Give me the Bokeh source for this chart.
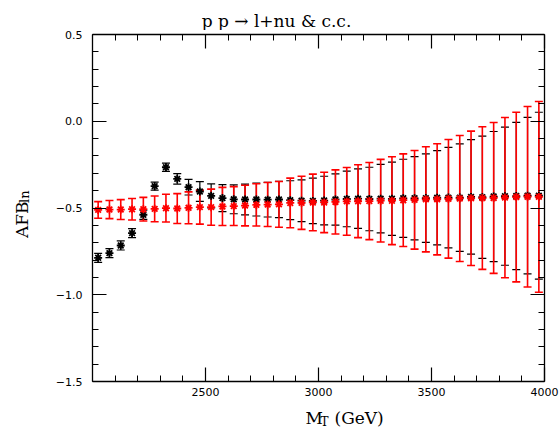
from bokeh.plotting import figure
from bokeh.layouts import column, row
from bokeh.models import (ColumnDataSource, Whisker, TeeHead, Range1d, LinearAxis,
                          FixedTicker, CustomLabelingPolicy)
from bokeh.core.properties import value
from bokeh.embed import file_html
from bokeh.resources import INLINE

# ---- data ----
mt = [2025, 2075, 2125, 2175, 2225, 2275, 2325, 2375, 2425, 2475,
      2525, 2575, 2625, 2675, 2725, 2775, 2825, 2875, 2925, 2975,
      3025, 3075, 3125, 3175, 3225, 3275, 3325, 3375, 3425, 3475,
      3525, 3575, 3625, 3675, 3725, 3775, 3825, 3875, 3925, 3975]

afb_black = [-0.787, -0.760, -0.716, -0.645, -0.539, -0.374, -0.265, -0.332, -0.380, -0.405,
             -0.430, -0.443, -0.450, -0.451, -0.451, -0.452, -0.451, -0.455, -0.458, -0.459,
             -0.457, -0.451, -0.448, -0.446, -0.448, -0.446, -0.447, -0.444, -0.444, -0.443,
             -0.441, -0.440, -0.440, -0.436, -0.438, -0.434, -0.432, -0.431, -0.429, -0.429]
err_black = [0.026, 0.026, 0.026, 0.026, 0.026, 0.023, 0.024, 0.030, 0.045, 0.057,
             0.069, 0.078, 0.083, 0.089, 0.095, 0.100, 0.104, 0.112, 0.120, 0.131,
             0.140, 0.148, 0.160, 0.172, 0.183, 0.197, 0.211, 0.225, 0.240, 0.255,
             0.272, 0.290, 0.310, 0.330, 0.352, 0.375, 0.398, 0.424, 0.451, 0.481]

afb_red = [-0.511, -0.509, -0.509, -0.507, -0.507, -0.505, -0.501, -0.503, -0.499, -0.495,
           -0.495, -0.491, -0.489, -0.486, -0.482, -0.480, -0.479, -0.471, -0.470, -0.468,
           -0.468, -0.465, -0.462, -0.461, -0.460, -0.458, -0.458, -0.455, -0.453, -0.450,
           -0.450, -0.447, -0.445, -0.444, -0.443, -0.442, -0.440, -0.437, -0.435, -0.436]
err_red = [0.048, 0.052, 0.057, 0.062, 0.068, 0.074, 0.080, 0.086, 0.092, 0.098,
           0.104, 0.110, 0.112, 0.117, 0.122, 0.127, 0.132, 0.143, 0.153, 0.163,
           0.174, 0.185, 0.195, 0.210, 0.222, 0.238, 0.253, 0.267, 0.284, 0.303,
           0.320, 0.342, 0.363, 0.387, 0.411, 0.435, 0.462, 0.489, 0.520, 0.550]

x_major = [2500, 3000, 3500, 4000]
x_minor = [2000, 2100, 2200, 2300, 2400, 2600, 2700, 2800, 2900, 3100, 3200, 3300, 3400,
           3600, 3700, 3800, 3900]
y_major = [-1.5, -1.0, -0.5, 0.0, 0.5]
y_labels = {-1.5: "\u22121.5", -1.0: "\u22121.0", -0.5: "\u22120.5", 0.0: "0.0", 0.5: "0.5"}
y_minor = [-1.4, -1.3, -1.2, -1.1, -0.9, -0.8, -0.7, -0.6, -0.4, -0.3, -0.2, -0.1,
           0.1, 0.2, 0.3, 0.4]

title_text = "p p \u2192 l+nu & c.c."
xlabel_main = "M"
xlabel_sub = "T"
xlabel_unit = "(GeV)"
ylabel_main = "AFB"
ylabel_sub = "ln"

SERIF = value("DejaVu Serif")

# ---- main figure ----
p = figure(width=520, height=375, output_backend="svg", toolbar_location=None,
           x_range=Range1d(2000, 4000), y_range=Range1d(-1.5, 0.5),
           min_border_left=52, min_border_right=16, min_border_top=4, min_border_bottom=24,
           x_axis_location=None, y_axis_location=None)
p.xgrid.visible = False
p.ygrid.visible = False
p.outline_line_color = None
p.background_fill_color = "white"
p.border_fill_color = "white"

xt = FixedTicker(ticks=x_major, minor_ticks=x_minor)
yt = FixedTicker(ticks=y_major, minor_ticks=y_minor)

def style(ax, labels=True, standoff=6):
    ax.major_tick_in = 14
    ax.major_tick_out = 0
    ax.minor_tick_in = 6
    ax.minor_tick_out = 0
    ax.axis_line_color = "black"
    ax.axis_line_width = 1.3
    ax.major_tick_line_width = 1.2
    ax.minor_tick_line_width = 1.0
    ax.major_tick_line_color = "black"
    ax.minor_tick_line_color = "black"
    if labels:
        ax.major_label_text_font = "DejaVu Sans"
        ax.major_label_text_font_size = "11px"
        ax.major_label_text_color = "black"
        ax.major_label_standoff = standoff
    else:
        ax.major_label_text_font_size = "1px"
        ax.major_label_standoff = 0
        ax.major_label_policy = CustomLabelingPolicy(code="return []")

xb = LinearAxis(ticker=xt)
style(xb, True, 6)
xa = LinearAxis(ticker=xt)
style(xa, False)
yl = LinearAxis(ticker=yt, major_label_overrides=y_labels)
style(yl, True, 10)
yr = LinearAxis(ticker=yt)
style(yr, False)
p.add_layout(xb, "below")
p.add_layout(xa, "above")
p.add_layout(yl, "left")
p.add_layout(yr, "right")

src_b = ColumnDataSource(dict(x=mt, y=afb_black,
                              lo=[v - e for v, e in zip(afb_black, err_black)],
                              hi=[v + e for v, e in zip(afb_black, err_black)]))
src_r = ColumnDataSource(dict(x=mt, y=afb_red,
                              lo=[v - e for v, e in zip(afb_red, err_red)],
                              hi=[v + e for v, e in zip(afb_red, err_red)]))

wb = Whisker(source=src_b, base="x", lower="lo", upper="hi",
             line_color="black", line_width=1.2,
             upper_head=TeeHead(size=8, line_color="black", line_width=1.2),
             lower_head=TeeHead(size=8, line_color="black", line_width=1.2))
p.add_layout(wb)
p.scatter("x", "y", source=src_b, marker="asterisk", size=8, line_color="black", line_width=1.8)

wr = Whisker(source=src_r, base="x", lower="lo", upper="hi",
             line_color="#ff0000", line_width=1.6,
             upper_head=TeeHead(size=8, line_color="#ff0000", line_width=1.6),
             lower_head=TeeHead(size=8, line_color="#ff0000", line_width=1.6))
p.add_layout(wr)
p.scatter("x", "y", source=src_r, marker="asterisk", size=8, line_color="#ff0000", line_width=1.8)

# ---- text strips (ranges in page pixels) ----
def strip(w, h, x0, y0):
    s = figure(width=w, height=h, output_backend="svg", toolbar_location=None,
               x_range=Range1d(x0, x0 + w), y_range=Range1d(y0 + h, y0),
               min_border=0, x_axis_location=None, y_axis_location=None)
    s.xgrid.visible = False
    s.ygrid.visible = False
    s.outline_line_color = None
    s.border_fill_color = "white"
    s.background_fill_color = "white"
    return s

top = strip(560, 30, 0, 0)
top.text(x=[276], y=[20], text=[title_text], text_font=SERIF, text_font_size="17px",
         text_align="center", text_baseline="alphabetic", text_color="black")

left = strip(40, 375, 0, 30)
left.text(x=[21], y=[250], text=[ylabel_main], angle=1.5707963, text_font=SERIF,
          text_font_size="17px", text_align="left", text_baseline="alphabetic",
          text_color="black")
left.text(x=[24], y=[212], text=[ylabel_sub], angle=1.5707963, text_font=SERIF,
          text_font_size="13px", text_align="left", text_baseline="alphabetic",
          text_color="black")

bottom = strip(560, 27, 0, 405)
bottom.text(x=[305], y=[417], text=[xlabel_main], text_font=SERIF, text_font_size="17px",
            text_align="left", text_baseline="alphabetic", text_color="black")
bottom.text(x=[320], y=[421], text=[xlabel_sub], text_font=SERIF, text_font_size="12px",
            text_align="left", text_baseline="alphabetic", text_color="black")
bottom.text(x=[334], y=[417], text=[xlabel_unit], text_font=SERIF, text_font_size="17px",
            text_align="left", text_baseline="alphabetic", text_color="black")

layout = column(top, row(left, p), bottom, spacing=0)
open("out.html", "w").write(file_html(layout, INLINE))
